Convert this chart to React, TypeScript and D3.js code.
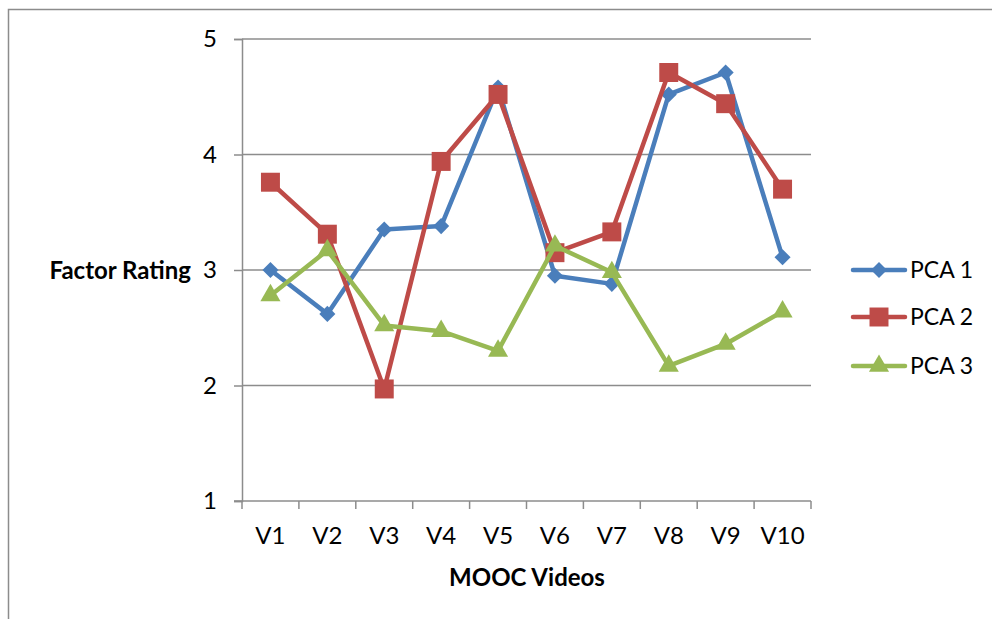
import * as d3 from "d3";
import { useEffect, useRef } from "react";

const videos = ["V1", "V2", "V3", "V4", "V5", "V6", "V7", "V8", "V9", "V10"];
const pca1 = [3.0, 2.62, 3.35, 3.38, 4.58, 2.95, 2.88, 4.52, 4.71, 3.11];
const pca2 = [3.76, 3.31, 1.97, 3.94, 4.52, 3.15, 3.33, 4.71, 4.44, 3.7];
const pca3 = [2.78, 3.17, 2.52, 2.47, 2.3, 3.21, 2.98, 2.17, 2.36, 2.64];
const seriesNames = ["PCA 1", "PCA 2", "PCA 3"];
const yTicks = [1, 2, 3, 4, 5];

const W = 992;
const H = 619;
const PLOT = { left: 242, right: 811, top: 39, bottom: 501 };
const COLORS = ["#4A7EBB", "#BE4B48", "#98B954"];
const FONT = "Lato, 'Open Sans', sans-serif";
const FS = 24;

export default function App() {
  const svgRef = useRef<SVGSVGElement>(null);

  useEffect(() => {
    const svg = d3.select(svgRef.current!);
    svg.selectAll("*").remove();

    const x = d3
      .scaleBand<string>()
      .domain(videos)
      .range([PLOT.left, PLOT.right])
      .padding(0);
    const y = d3.scaleLinear().domain([1, 5]).range([PLOT.bottom, PLOT.top]);

    // outer frame
    svg
      .append("rect")
      .attr("x", 8.5)
      .attr("y", 9.5)
      .attr("width", W)
      .attr("height", H)
      .attr("fill", "white")
      .attr("stroke", "#8c8c8c")
      .attr("stroke-width", 1.5);

    // gridlines
    svg
      .selectAll(".grid")
      .data(yTicks.slice(1))
      .enter()
      .append("line")
      .attr("x1", PLOT.left)
      .attr("x2", PLOT.right)
      .attr("y1", (d) => y(d))
      .attr("y2", (d) => y(d))
      .attr("stroke", "#8c8c8c")
      .attr("stroke-width", 1.5);

    // y axis
    const yAxis = svg
      .append("g")
      .attr("transform", `translate(${PLOT.left},0)`)
      .call(d3.axisLeft(y).tickValues(yTicks).tickSize(8).tickPadding(17).tickFormat(d3.format("d")));
    yAxis.select(".domain").attr("stroke", "#8c8c8c").attr("stroke-width", 1.5);
    yAxis.selectAll(".tick line").attr("stroke", "#8c8c8c").attr("stroke-width", 1.5);
    yAxis
      .selectAll(".tick text")
      .attr("font-family", FONT)
      .attr("font-size", FS)
      .attr("fill", "#000");

    // x axis line and ticks at band edges
    svg
      .append("line")
      .attr("x1", PLOT.left - 8)
      .attr("x2", PLOT.right)
      .attr("y1", PLOT.bottom)
      .attr("y2", PLOT.bottom)
      .attr("stroke", "#8c8c8c")
      .attr("stroke-width", 1.5);
    const edges = videos.map((v) => x(v)!).concat([PLOT.right]);
    svg
      .selectAll(".xtick")
      .data(edges)
      .enter()
      .append("line")
      .attr("x1", (d) => d)
      .attr("x2", (d) => d)
      .attr("y1", PLOT.bottom)
      .attr("y2", PLOT.bottom + 8)
      .attr("stroke", "#8c8c8c")
      .attr("stroke-width", 1.5);
    svg
      .selectAll(".xlabel")
      .data(videos)
      .enter()
      .append("text")
      .attr("x", (d) => x(d)! + x.bandwidth() / 2)
      .attr("y", 544)
      .attr("text-anchor", "middle")
      .attr("font-family", FONT)
      .attr("font-size", FS)
      .text((d) => d);

    // axis titles
    svg
      .append("text")
      .attr("x", 191)
      .attr("y", 279)
      .attr("text-anchor", "end")
      .attr("font-family", FONT)
      .attr("font-weight", "bold")
      .attr("font-size", FS)
      .text("Factor Rating");
    svg
      .append("text")
      .attr("x", 527)
      .attr("y", 586)
      .attr("text-anchor", "middle")
      .attr("font-family", FONT)
      .attr("font-weight", "bold")
      .attr("font-size", FS)
      .text("MOOC Videos");

    const allSeries = [pca1, pca2, pca3];
    const line = d3
      .line<number>()
      .x((_, i) => x(videos[i])! + x.bandwidth() / 2)
      .y((d) => y(d));

    const symbols = [
      d3.symbol().type(d3.symbolDiamond2).size(165),
      d3.symbol().type(d3.symbolSquare).size(360),
      d3.symbol().type(d3.symbolTriangle).size(175),
    ];

    allSeries.forEach((vals, si) => {
      svg
        .append("path")
        .datum(vals)
        .attr("fill", "none")
        .attr("stroke", COLORS[si])
        .attr("stroke-width", 4.5)
        .attr("stroke-linejoin", "round")
        .attr("stroke-linecap", "round")
        .attr("d", line);
      svg
        .selectAll(`.m${si}`)
        .data(vals)
        .enter()
        .append("path")
        .attr("d", symbols[si]()!)
        .attr("transform", (d, i) => `translate(${x(videos[i])! + x.bandwidth() / 2},${y(d)})`)
        .attr("fill", COLORS[si]);
    });

    // legend
    const legendY = [270, 317, 366];
    seriesNames.forEach((name, si) => {
      const g = svg.append("g").attr("transform", `translate(851,${legendY[si]})`);
      g.append("line")
        .attr("x1", 2)
        .attr("x2", 54)
        .attr("y1", 0)
        .attr("y2", 0)
        .attr("stroke", COLORS[si])
        .attr("stroke-width", 4.5)
        .attr("stroke-linecap", "round");
      g.append("path")
        .attr("d", symbols[si]()!)
        .attr("transform", "translate(28,0)")
        .attr("fill", COLORS[si]);
      g.append("text")
        .attr("x", 59)
        .attr("y", 8)
        .attr("font-family", FONT)
        .attr("font-size", FS - 1)
        .text(name);
    });
  }, []);

  return (
    <svg
      ref={svgRef}
      width={W}
      height={H}
      style={{ position: "absolute", left: 0, top: 0, background: "white" }}
    />
  );
}
